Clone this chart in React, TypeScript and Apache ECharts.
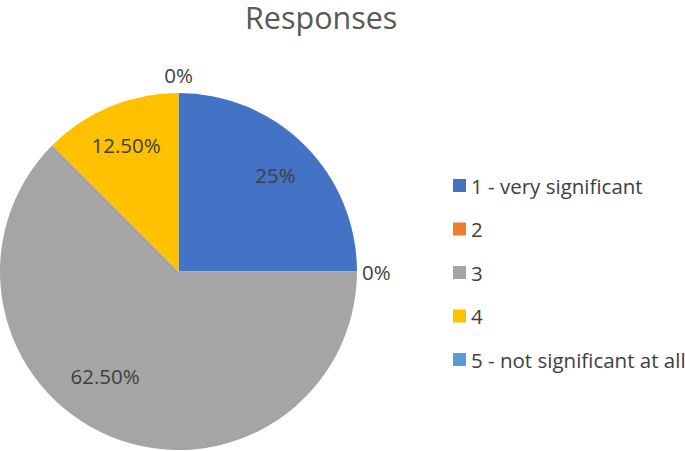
import React, { useEffect, useRef } from 'react';
import * as echarts from 'echarts';

const categories = ['1 - very significant', '2', '3', '4', '5 - not significant at all'];
const values = [25, 0, 62.5, 12.5, 0];
const labelTexts = ['25%', '0%', '62.50%', '12.50%', '0%'];
const colors = ['#4472C4', '#ED7D31', '#A5A5A5', '#FFC000', '#5B9BD5'];
const titleText = 'Responses';

const FONT = "'Open Sans', 'Noto Sans', sans-serif";
const TEXT_COLOR = '#404040';

export default function App() {
  const ref = useRef<HTMLDivElement>(null);

  useEffect(() => {
    if (!ref.current) return;
    const chart = echarts.init(ref.current, null, { renderer: 'svg' });
    const total = values.reduce((a, b) => a + b, 0);
    const cumBefore: number[] = [];
    let acc = 0;
    values.forEach((v) => {
      cumBefore.push(acc);
      acc += v;
    });
    const isTop = (i: number) => {
      const c = (cumBefore[i] + values[i]) / total;
      return Math.abs(c - Math.round(c)) < 1e-9;
    };
    // largest slice's label is placed by "best fit" closer to the centre-left
    const largest = values.indexOf(Math.max(...values));

    const center = [178.5, 271.5];
    const R = 178.5;

    const labelCommon = {
      formatter: (p: any) => labelTexts[p.dataIndex],
      fontSize: 20.5,
      color: TEXT_COLOR,
      fontFamily: FONT,
    };

    chart.setOption({
      animation: false,
      color: colors,
      title: {
        text: titleText,
        left: 245,
        top: 1,
        padding: 0,
        textStyle: { fontSize: 30.5, fontWeight: 'normal', color: '#595959', fontFamily: FONT },
      },
      legend: {
        orient: 'vertical',
        left: 453,
        top: 175,
        padding: 0,
        itemWidth: 13,
        itemHeight: 13,
        itemGap: 22.5,
        icon: 'rect',
        selectedMode: false,
        data: categories,
        textStyle: { fontSize: 20.5, color: TEXT_COLOR, fontFamily: FONT },
      },
      series: [
        {
          type: 'pie',
          center,
          radius: R,
          startAngle: 90,
          clockwise: true,
          avoidLabelOverlap: false,
          silent: true,
          emphasis: { disabled: true },
          itemStyle: { borderWidth: 0 },
          label: { ...labelCommon, position: 'outside' },
          labelLine: { show: false },
          labelLayout: (p: any) => (values[p.dataIndex] === 0 && isTop(p.dataIndex) ? { align: 'center' } : undefined),
          data: categories.map((name, i) => ({
            name,
            value: values[i],
            label: values[i] === 0
              ? { show: true, position: 'outside', distanceToLabelLine: isTop(i) ? 0 : 5 }
              : { show: false },
            labelLine: { show: false, length: values[i] === 0 && isTop(i) ? 18 : 0, length2: 0 },
          })),
        },
        {
          type: 'pie',
          center,
          radius: [89.5, R],
          startAngle: 90,
          clockwise: true,
          avoidLabelOverlap: false,
          silent: true,
          emphasis: { disabled: true },
          itemStyle: { color: 'rgba(0,0,0,0)', borderWidth: 0 },
          label: { ...labelCommon, position: 'inside' },
          labelLine: { show: false },
          labelLayout: (p: any) => (p.dataIndex === largest ? { dx: -21, dy: -22 } : undefined),
          data: categories.map((name, i) => ({
            name,
            value: values[i],
            label: { show: values[i] !== 0 },
          })),
        },
      ],
    });
    return () => chart.dispose();
  }, []);

  return (
    <div
      ref={ref}
      style={{ position: 'absolute', left: 0, top: 0, width: 685, height: 451 }}
    />
  );
}
